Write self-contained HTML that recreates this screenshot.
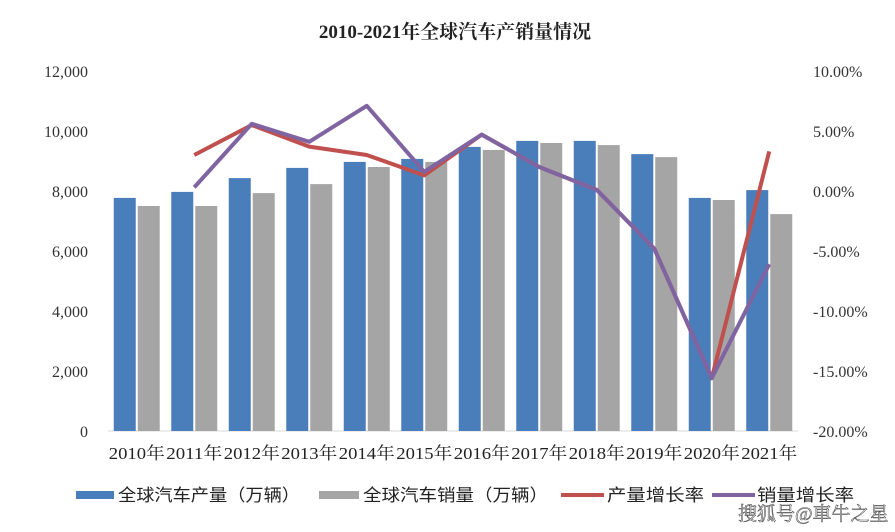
<!DOCTYPE html>
<html><head><meta charset="utf-8"><style>
body{margin:0;background:#fff;width:895px;height:527px;overflow:hidden;font-family:"Liberation Serif","Noto Serif CJK SC",serif}
svg text{font-family:"Liberation Serif","Noto Serif CJK SC",serif}
svg .sans text{font-family:"Liberation Sans","Noto Sans CJK SC",sans-serif}
</style></head><body>
<svg id="chart" width="895" height="527">
<text x="455" y="38" text-anchor="middle" font-size="19" font-weight="bold" fill="#222">2010-2021年全球汽车产销量情况</text>
<g id="axes"></g><g id="bars"></g><g id="lines"></g>
<g class="sans" font-size="17" fill="#222">
<rect x="76" y="491" width="38" height="8" fill="#4a7ebb"/>
<text x="118" y="501" textLength="182" lengthAdjust="spacingAndGlyphs">全球汽车产量（万辆）</text>
<rect x="319" y="491" width="40" height="8" fill="#a5a5a5"/>
<text x="363" y="501" textLength="185" lengthAdjust="spacingAndGlyphs">全球汽车销量（万辆）</text>
<line x1="561" y1="495" x2="604" y2="495" stroke="#c0504d" stroke-width="4"/>
<text x="607" y="501" textLength="97" lengthAdjust="spacingAndGlyphs">产量增长率</text>
<line x1="712" y1="495" x2="755" y2="495" stroke="#8064a2" stroke-width="4"/>
<text x="757" y="501" textLength="97" lengthAdjust="spacingAndGlyphs">销量增长率</text>
</g>
<text x="738" y="520" font-size="19" fill="#fff" stroke="#555" stroke-width="0.6" font-family="Liberation Sans,Noto Sans CJK SC,sans-serif">搜狐号@車牛之星</text>
</svg>
<script>
const categories=["2010年","2011年","2012年","2013年","2014年","2015年","2016年","2017年","2018年","2019年","2020年","2021年"];
const production=[7770,7970,8430,8770,8970,9070,9470,9670,9670,9230,7770,8030];
const sales=[7500,7500,7930,8230,8800,8970,9370,9600,9530,9130,7700,7230];
const prodGrowth=[null,3.0,5.5,3.7,3.0,1.3,4.7,2.0,0.1,-4.8,-15.6,3.3];
const salesGrowth=[null,0.3,5.6,4.1,7.1,1.6,4.7,2.0,0.1,-4.8,-15.6,-6.1];
const leftTicks=[0,2000,4000,6000,8000,10000,12000];
const rightTicks=[-20,-15,-10,-5,0,5,10];
const NS="http://www.w3.org/2000/svg";
const L=108,R=798,T=71,B=431,step=(R-L)/categories.length;
const yL=v=>B-(v/12000)*(B-T);
const yR=v=>B-((v+20)/30)*(B-T);
const xc=i=>L+step*(i+0.5);
function mk(tag,attrs,parent,txt){const e=document.createElementNS(NS,tag);for(const k in attrs)e.setAttribute(k,attrs[k]);if(txt!=null)e.textContent=txt;parent.appendChild(e);return e;}
const axes=document.getElementById('axes'),bars=document.getElementById('bars'),lines=document.getElementById('lines');
mk('line',{x1:L,y1:B,x2:R,y2:B,stroke:'#d9d9d9','stroke-width':1},axes);
leftTicks.forEach(v=>{const t=mk('text',{x:88,y:yL(v)+6,'text-anchor':'end','font-size':16,fill:'#333'},axes,v.toLocaleString('en-US'));

});
rightTicks.forEach(v=>{const t=mk('text',{x:813,y:yR(v)+6,'font-size':16,fill:'#333'},axes,v.toFixed(2)+'%');

});
categories.forEach((c,i)=>{const t=mk('text',{x:xc(i),y:459,'text-anchor':'middle','font-size':17,fill:'#222',textLength:56,lengthAdjust:'spacingAndGlyphs'},axes,c);


const bw=22;
const b1=mk('rect',{x:xc(i)-bw-1,y:yL(production[i]),width:bw,height:B-yL(production[i]),fill:'#4a7ebb'},bars);


const b2=mk('rect',{x:xc(i)+1,y:yL(sales[i]),width:bw,height:B-yL(sales[i]),fill:'#a5a5a5'},bars);

});
function line(arr,color,name){const pts=[];arr.forEach((v,i)=>{if(v!=null)pts.push(xc(i)+','+yR(v));});
const p=mk('polyline',{points:pts.join(' '),fill:'none',stroke:color,'stroke-width':4,'stroke-linejoin':'round'},lines);

}
line(prodGrowth,'#c0504d','line-production-growth');
line(salesGrowth,'#8064a2','line-sales-growth');
</script>
</body></html>
